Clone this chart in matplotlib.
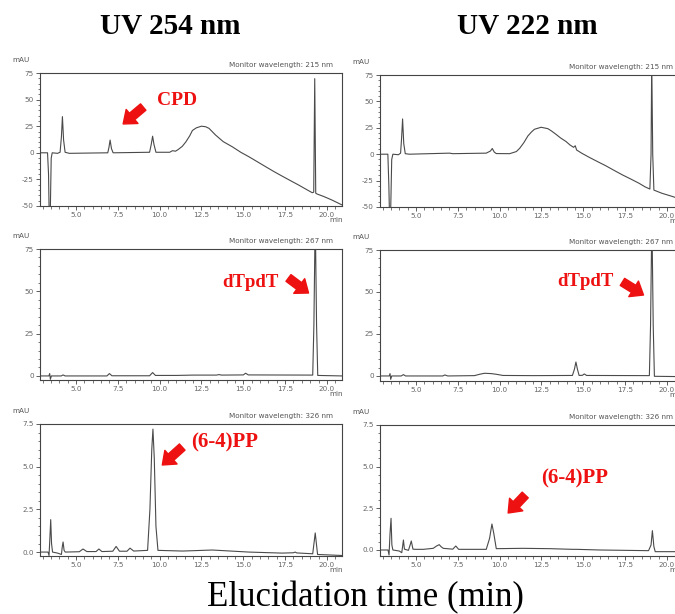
"""HPLC chromatograms of UV-irradiated dTpdT, detected at three monitor wavelengths."""
import matplotlib
matplotlib.use("Agg")
import matplotlib.pyplot as plt
from matplotlib.ticker import MultipleLocator, FormatStrFormatter

W, H = 675, 614
RED = "#ee1111"
TRACE = "#4a4a4a"
SERIF = ["Liberation Serif", "DejaVu Serif"]

# ---- traces: (time in min, signal in mAU) ----
# UV 254 nm irradiation
t_254_215 = [2.85, 3.30, 3.36, 3.40, 3.46, 3.52, 3.58, 3.90, 4.05, 4.13, 4.19, 4.26, 4.35, 4.60,
             6.90, 6.97, 7.04, 7.12, 7.22, 9.40, 9.50, 9.58, 9.66, 9.78, 10.60, 10.77, 10.95,
             11.10, 11.35, 11.57, 11.80, 11.96, 12.20, 12.50, 12.75, 12.95, 13.35, 13.80, 14.35,
             14.85, 15.34, 15.85, 16.33, 16.85, 17.32, 17.80, 18.31, 18.70, 19.12, 19.21, 19.27,
             19.33, 19.42, 19.80, 20.30, 20.90]
y_254_215 = [0, 0, -20, -60, -60, -5, 0, -0.5, 0.5, 15, 34, 12, 0.5, -0.5,
             0, 5, 12, 4, 0, 0.5, 8, 15.6, 8, 0.5, 0.5, 2, 1.5,
             3, 6, 10.3, 16, 21, 23.5, 25, 24.5, 23, 16.6, 10.5, 5.6,
             0.5, -3.75, -8.5, -13, -17.8, -21.9, -26, -30.3, -33.8, -37.5, -37, 69.7,
             -38, -38.8, -41, -44.4, -49]

t_254_267 = [2.85, 3.38, 3.43, 3.47, 3.53, 4.12, 4.23, 4.35, 6.85, 7.00, 7.15, 9.40, 9.58, 9.75,
             11.0, 12.0, 13.4, 13.55, 13.7, 15.0, 15.14, 15.3, 19.15, 19.22, 19.30, 19.38,
             19.45, 20.9]
y_254_267 = [0, 0, 1.4, -2, 0, 0, 0.6, 0, 0, 1.4, 0.1, 0.1, 2.0, 0.3,
             0.3, 0.5, 0.5, 0.8, 0.5, 0.6, 1.6, 0.6, 0.5, 30, 95, 30,
             0.3, 0]

t_254_326 = [2.85, 3.33, 3.39, 3.44, 3.49, 3.54, 3.60, 3.90, 4.13, 4.18, 4.23, 4.29, 4.36,
             5.20, 5.42, 5.65, 6.20, 6.37, 6.55, 7.20, 7.40, 7.60, 8.05, 8.23, 8.45,
             9.28, 9.42, 9.53, 9.60, 9.68, 9.78, 9.90, 11.37, 13.15, 15.34, 17.32, 18.00,
             18.10, 18.20, 19.15, 19.30, 19.44, 20.90]
y_254_326 = [0, 0, -0.2, 0.8, 1.9, 0.5, 0, -0.06, -0.14, 0.3, 0.59, 0.1, 0,
             0.02, 0.18, 0.03, 0.03, 0.18, 0.03, 0.05, 0.33, 0.05, 0.05, 0.23, 0.06,
             0.1, 2.5, 6.0, 7.2, 5.5, 1.5, 0.1, 0.06, 0.12, 0.0, -0.06, -0.04,
             0.0, -0.05, -0.1, 1.12, -0.14, -0.2]

# UV 222 nm irradiation
t_222_215 = [2.85, 3.32, 3.38, 3.42, 3.48, 3.55, 3.62, 3.95, 4.08, 4.14, 4.20, 4.27, 4.36, 4.60,
             7.00, 7.20, 9.20, 9.45, 9.56, 9.68, 9.80, 10.60, 11.00, 11.20, 11.45, 11.69,
             11.90, 12.08, 12.48, 12.88, 13.10, 13.37, 13.65, 13.97, 14.20, 14.42, 14.52,
             14.60, 14.90, 15.36, 15.85, 16.35, 16.85, 17.34, 17.85, 18.33, 18.70, 18.98,
             19.05, 19.09, 19.15, 19.22, 19.70, 20.32, 20.90]
y_222_215 = [0, 0, -30, -60, -60, -5, 0, -0.5, 1, 15, 33.4, 10, 0.5, 0,
             1, 0.5, 1, 3, 5.4, 2, 0.6, 0.5, 2.5, 5.6, 11, 17.3,
             21, 23.6, 25.5, 24.2, 22, 18.8, 15.3, 12, 8.8, 6.5, 8,
             4, 1, -3, -7, -11, -15.4, -19.6, -23.6, -27.5, -31, -33,
             0, 90, 0, -34, -37, -40, -43]

t_222_267 = [2.85, 3.40, 3.45, 3.49, 3.55, 4.12, 4.25, 4.38, 6.60, 6.73, 6.90, 8.50, 8.80,
             9.10, 9.50, 9.80, 10.20, 12.00, 14.35, 14.47, 14.56, 14.65, 14.75, 14.95,
             15.06, 15.20, 18.95, 19.02, 19.10, 19.18, 19.25, 20.90]
y_222_267 = [0, 0, 1.4, -2, 0, 0, 0.8, 0, 0, 0.6, 0, 0.2, 1.0,
             1.6, 1.4, 1.0, 0.3, 0.2, 0.3, 4, 8.3, 4, 0.3, 0.4,
             1.2, 0.3, 0.2, 30, 95, 30, -0.2, -0.4]

t_222_326 = [2.85, 3.33, 3.39, 3.45, 3.51, 3.56, 3.62, 4.00, 4.15, 4.20, 4.25, 4.31, 4.55,
             4.65, 4.72, 4.82, 5.00, 5.44, 6.03, 6.23, 6.39, 6.50, 6.63, 7.20, 7.38, 7.55,
             9.20, 9.40, 9.54, 9.65, 9.80, 11.37, 13.00, 14.37, 14.60, 16.00, 18.90, 19.05,
             19.13, 19.22, 19.30, 20.90]
y_222_326 = [0, 0, -0.3, 1.0, 1.9, 0.3, 0, -0.06, -0.16, 0.2, 0.6, 0.05, -0.02,
             0.3, 0.54, 0.05, 0.04, 0.04, 0.1, 0.24, 0.32, 0.2, 0.1, 0.05, 0.24, 0.04,
             0.04, 0.7, 1.56, 1.0, 0.08, 0.1, 0.08, 0.04, 0.04, 0.0, -0.04, 0.3,
             1.16, 0.2, -0.1, -0.1]

column_titles = ["UV 254 nm", "UV 222 nm"]
monitor_nm = [215, 267, 326]
x_label = "Elucidation time (min)"


def axes_at(fig, x0, x1, top, bot):
    return fig.add_axes([x0 / W, 1 - bot / H, (x1 - x0) / W, (bot - top) / H])


def panel(ax, t, y, ylim, major, minor, fmt, nm):
    ax.plot(t, y, color=TRACE, lw=0.8, clip_on=True)
    ax.set_xlim(2.85, 20.9)
    ax.set_ylim(*ylim)
    ax.xaxis.set_major_locator(MultipleLocator(2.5))
    ax.xaxis.set_minor_locator(MultipleLocator(0.5))
    ax.xaxis.set_major_formatter(FormatStrFormatter("%.1f"))
    ax.yaxis.set_major_locator(MultipleLocator(major))
    ax.yaxis.set_minor_locator(MultipleLocator(minor))
    ax.yaxis.set_major_formatter(FormatStrFormatter(fmt))
    ax.tick_params(which="major", direction="out", length=3, width=0.6,
                   color="#444", labelcolor="#666", labelsize=5.2, pad=1.5)
    ax.tick_params(which="minor", direction="out", length=1.8, width=0.5, color="#444")
    for s in ax.spines.values():
        s.set_color("#444")
        s.set_linewidth(0.8)
    small = dict(fontsize=5.2, color="#555", family="DejaVu Sans")
    ax.annotate("mAU", xy=(0, 1), xycoords="axes fraction", xytext=(-20, 7),
                textcoords="offset points", ha="left", va="bottom", **small)
    ax.annotate(f"Monitor wavelength: {nm} nm", xy=(1, 1), xycoords="axes fraction",
                xytext=(-6.5, 3.5), textcoords="offset points", ha="right", va="bottom",
                **small)
    ax.annotate("min", xy=(1, 0), xycoords="axes fraction", xytext=(-4.5, -10),
                textcoords="offset points", ha="center", va="center", **small)


def flag(ax, label, text_xy, tail, head, size):
    ax.text(*text_xy, label, color=RED, fontsize=size, fontweight="bold",
            family=SERIF, ha="center", va="center")
    ax.annotate("", xy=head, xytext=tail, annotation_clip=False,
                arrowprops=dict(arrowstyle="simple,head_length=0.7,head_width=1.1,tail_width=0.5",
                                color=RED, mutation_scale=12, shrinkA=0, shrinkB=0))


fig = plt.figure(figsize=(W / 100, H / 100), dpi=100)

big = dict(ylim=(-50, 75), major=25, minor=5, fmt="%d")
ax = axes_at(fig, 40, 342, 73, 206)
panel(ax, t_254_215, y_254_215, nm=monitor_nm[0], **big)
flag(ax, "CPD", (11.05, 49.6), (9.02, 43.0), (7.82, 27.1), 14)

ax = axes_at(fig, 380, 682, 75, 207)
panel(ax, t_222_215, y_222_215, nm=monitor_nm[0], **big)

ax = axes_at(fig, 40, 342, 249, 380)
panel(ax, t_254_267, y_254_267, ylim=(-2.4, 75), major=25, minor=5, fmt="%d", nm=monitor_nm[1])
flag(ax, "dTpdT", (15.42, 55.5), (17.7, 57.9), (18.9, 49.0), 13.5)

ax = axes_at(fig, 380, 682, 250, 381)
panel(ax, t_222_267, y_222_267, ylim=(-3.0, 75), major=25, minor=5, fmt="%d", nm=monitor_nm[1])
flag(ax, "dTpdT", (15.13, 56.0), (17.34, 56.0), (18.6, 48.2), 13.5)

ax = axes_at(fig, 40, 342, 424, 556)
panel(ax, t_254_326, y_254_326, ylim=(-0.23, 7.5), major=2.5, minor=0.5, fmt="%.1f",
      nm=monitor_nm[2])
flag(ax, "(6-4)PP", (13.87, 6.39), (11.35, 6.15), (10.16, 5.1), 15)

ax = axes_at(fig, 380, 682, 425, 556)
panel(ax, t_222_326, y_222_326, ylim=(-0.36, 7.5), major=2.5, minor=0.5, fmt="%.1f",
      nm=monitor_nm[2])
flag(ax, "(6-4)PP", (14.47, 4.32), (11.53, 3.3), (10.51, 2.22), 15)

for x, title in zip([170, 527], column_titles):
    fig.text(x / W, 1 - 27 / H, title, ha="center", va="center", fontsize=21,
             fontweight="bold", family=SERIF)
fig.text(365 / W, 1 - 598 / H, x_label, ha="center", va="center", fontsize=25, family=SERIF)

fig.savefig("out.png", dpi=100)
